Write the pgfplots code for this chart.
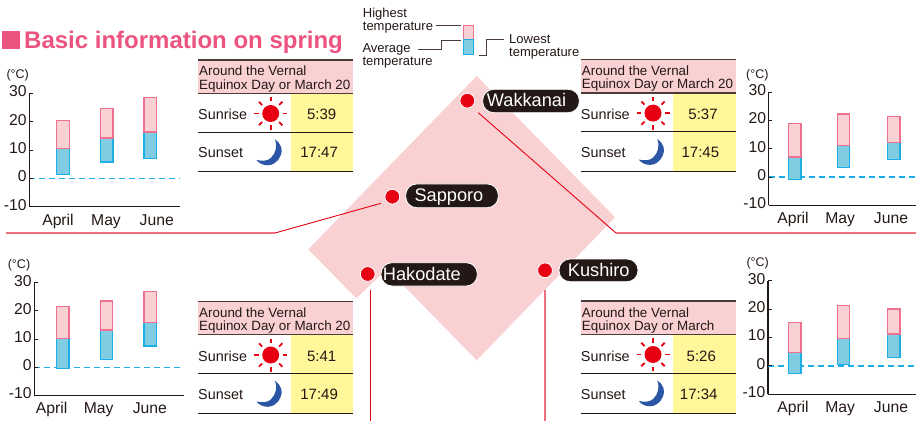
\documentclass[border=0pt]{standalone}
\usepackage{pgfplots}
\pgfplotsset{compat=1.18}
\usepackage{pgfplotstable}
\usepackage{fontspec}
\setmainfont{Liberation Sans}
\definecolor{ink}{HTML}{231815}
\definecolor{rulec}{HTML}{4A3B38}
\definecolor{pinkfill}{HTML}{F9D1D3}
\definecolor{pinkline}{HTML}{F0708F}
\definecolor{bluefill}{HTML}{7FCCE3}
\definecolor{blueline}{HTML}{1EAEE6}
\definecolor{titlec}{HTML}{EC5480}
\definecolor{yell}{HTML}{FFF799}
\definecolor{redc}{HTML}{E60012}
\definecolor{salmonc}{HTML}{F0707F}
\definecolor{moonc}{HTML}{2A56A5}

\pgfplotstableread{
x low avg high
0 1.3 10.6 20.5
1 5.8 14.2 24.7
2 6.9 16.4 28.6
}\tabSapporo
\pgfplotstableread{
x low avg high
0 -0.4 10.3 21.6
1 2.6 13.2 23.5
2 7.5 15.8 26.9
}\tabHakodate
\pgfplotstableread{
x low avg high
0 -0.9 7.1 18.9
1 3.4 11.2 22.2
2.035 6.2 12.1 21.4
}\tabWakkanai
\pgfplotstableread{
x low avg high
0 -2.6 4.8 15.2
1 0.6 9.6 21.2
2.035 2.9 11.2 20.0
}\tabKushiro

\newcommand{\chart}[8]{%
\begin{axis}[
  at={(#1pt,#2pt)}, anchor=south west, scale only axis,
  width=#3pt, height=#4pt,
  xmin=#5, xmax=#6, ymin=-10, ymax=30, enlargelimits=false,
  ybar stacked, stack negative=on previous, bar width=12.4pt,
  axis lines=left, axis line style={-, line width=1.1pt, color=ink},
  xtick={#7}, xticklabels={April,May,June},
  ytick={-10,0,10,20,30}, yticklabels={-10,0,10,20,30},
  extra y ticks={0}, extra y tick labels={},
  extra y tick style={grid=major, major grid style={dash pattern=on 6pt off 4pt, line width=1.2pt, color=blueline}},
  major x tick style={draw=none}, tick align=inside,
  major tick length=3.5pt, major tick style={line width=0.9pt, color=ink},
  tick label style={font=\fontsize{15.7pt}{16pt}\selectfont, text=ink, inner sep=0pt},
  xticklabel style={anchor=base, yshift=-18.3pt},
  yticklabel style={anchor=east, xshift=-2.5pt, yshift=2pt},
  clip=false,
]
\addplot[draw=none, fill=none] table[x=x, y=high] {#8};
\addplot[draw=pinkline, line width=1.3pt, fill=pinkfill] table[x=x, y expr=\thisrow{avg}-\thisrow{high}] {#8};
\addplot[draw=blueline, line width=1.3pt, fill=bluefill] table[x=x, y expr=\thisrow{low}-\thisrow{avg}] {#8};
\end{axis}}

\newcommand{\sun}[2]{%
  \begin{scope}[shift={(#1,#2)}]
  \fill[redc] (0,0) circle (8.5);
  \foreach \a in {0,45,...,315} \draw[redc, line width=1.8pt] (\a:12) -- (\a:16.5);
  \end{scope}}
\newcommand{\moon}[2]{%
  \begin{scope}[shift={(#1,#2)}]
  \fill[moonc] (0,0) .. controls (6,4) and (8.5,11) .. (5.5,16.5)
     .. controls (3,23) and (-3,26) .. (-7,26)
     .. controls (-12,26) and (-16,24) .. (-18.5,20.7)
     .. controls (-12,22) and (-7,21.5) .. (-4,18.5)
     .. controls (1,14) and (2.5,6) .. (0,0) -- cycle;
  \end{scope}}
% x0 x1 xyellow ytop secondline sunrise sunset cx1 cx2
\newcommand{\infotab}[9]{%
  \fill[pinkfill] (#1,#4) rectangle (#2,#4+33.3);
  \fill[yell] (#3,#4+33.3) rectangle (#2,#4+112);
  \draw[rulec, line width=1.1pt] (#1,#4) -- (#2,#4);
  \draw[rulec, line width=1.3pt] (#1,#4+33.3) -- (#2,#4+33.3);
  \draw[ink, line width=1pt] (#1,#4+72.3) -- (#2,#4+72.3);
  \draw[ink, line width=1pt] (#1,#4+112) -- (#2,#4+112);
  \node[anchor=base west, inner sep=0pt, text=ink, font=\fontsize{13.4pt}{14pt}\selectfont] at (#1+1,#4+16) {Around the Vernal};
  \node[anchor=base west, inner sep=0pt, text=ink, font=\fontsize{13.4pt}{14pt}\selectfont] at (#1+1,#4+29.3) {#5};
  \node[anchor=base west, inner sep=0pt, text=ink, font=\fontsize{14.4pt}{15pt}\selectfont] at (#1,#4+60) {Sunrise};
  \node[anchor=base west, inner sep=0pt, text=ink, font=\fontsize{14.4pt}{15pt}\selectfont] at (#1,#4+98) {Sunset};
  \node[anchor=base, inner sep=0pt, text=ink, font=\fontsize{15pt}{15pt}\selectfont] at (#8,#4+60) {#6};
  \node[anchor=base, inner sep=0pt, text=ink, font=\fontsize{15pt}{15pt}\selectfont] at (#8-2.6,#4+98) {#7};
  \sun{#9}{#4+53.5}
  \moon{#9+4.3}{#4+79.3}
}
\newcommand{\pill}[6]{% x0 x1 y0 y1 textx name
  \draw[fill=ink, draw=white, line width=0.8pt, rounded corners=11pt] (#1,#3) rectangle (#2,#4);
  \node[anchor=base west, inner sep=0pt, text=white, font=\fontsize{18.2pt}{19pt}\selectfont] at (#5,#3+17.3) {#6};
}
\newcommand{\dotc}[2]{\draw[fill=redc, draw=white, line width=0.8pt] (#1,#2) circle (7.4);}

\begin{document}
\begin{tikzpicture}[x=1pt,y=1pt]
\path[use as bounding box] (0,0) rectangle (916,421);
\begin{scope}[shift={(0,421)},y=-1pt,x=1pt]
  % diamond with notch
  \fill[pinkfill] (476.7,76) -- (615,217.3) -- (476.7,360.3) -- (405,287) -- (384,272) -- (356.3,298.3) -- (308.3,249.3) -- cycle;
  % leader lines
  \draw[redc, line width=0.9pt] (478.3,112.7) -- (616,233);
  \draw[salmonc, line width=1.4pt] (616,233) -- (916,233);
  \draw[redc, line width=0.9pt] (381,203.3) -- (275,233);
  \draw[salmonc, line width=1.4pt] (275,233) -- (6,233);
  \draw[redc, line width=0.9pt] (370.2,290) -- (370.2,421);
  \draw[salmonc, line width=1.4pt] (545,290) -- (545,421);
  % title
  \fill[titlec] (2,31.5) rectangle (20,49);
  \node[anchor=base west, inner sep=0pt, text=titlec, font=\bfseries\fontsize{24pt}{24pt}\selectfont] at (24,48.5) {Basic information on spring};
  % legend
  \fill[pinkfill] (463.3,25.7) rectangle (473.3,40);
  \fill[bluefill] (463.3,40) rectangle (473.3,54.3);
  \draw[pinkline, line width=1pt] (463.3,40) -- (463.3,25.7) -- (473.3,25.7) -- (473.3,40);
  \draw[blueline, line width=1pt] (463.3,40) rectangle (473.3,54.3);
  \draw[rulec, line width=0.8pt] (436,25.7) -- (460.7,25.7);
  \draw[rulec, line width=0.8pt] (418,49.3) -- (441.7,49.3) -- (441.7,40) -- (460.7,40);
  \draw[rulec, line width=0.8pt] (478.7,55) -- (486,55) -- (486,39) -- (504.3,39);
  \begin{scope}[every node/.style={anchor=base west, inner sep=0pt, text=ink, font=\fontsize{13pt}{14pt}\selectfont}]
  \node at (362.7,18) {Highest};
  \node at (362.7,31) {temperature};
  \node at (362.3,53) {Average};
  \node at (362.3,66) {temperature};
  \node at (509,43.5) {Lowest};
  \node at (509,57) {temperature};
  \end{scope}
  % tables
  \infotab{198}{353.3}{291}{60}{Equinox Day or March 20}{5:39}{17:47}{321.7}{270.7}
  \infotab{580.7}{735.7}{673}{59.6}{Equinox Day or March 20}{5:37}{17:45}{703}{653}
  \infotab{198}{353.3}{291}{301.5}{Equinox Day or March 20}{5:41}{17:49}{321.7}{270.7}
  \infotab{580.7}{735.7}{673}{301}{Equinox Day or March}{5:26}{17:34}{701.3}{653}
  % units
  \begin{scope}[every node/.style={inner sep=0pt, text=ink, font=\fontsize{12.5pt}{13pt}\selectfont}]
  \node at (17.7,75.7) {(°C)};
  \node at (19,265) {(°C)};
  \node at (757.3,75) {(°C)};
  \node at (757.7,263.5) {(°C)};
  \end{scope}
  % city labels
  \pill{482.7}{579.3}{89.3}{112.7}{486.7}{Wakkanai}
  \pill{405.7}{498.3}{184}{207.7}{414.3}{Sapporo}
  \pill{381}{477.3}{262.7}{286}{382.7}{Hakodate}
  \pill{559}{638}{259}{281.7}{567.7}{Kushiro}
  \dotc{467.3}{100.7}
  \dotc{392.3}{196.7}
  \dotc{367.7}{274}
  \dotc{545}{270.3}
\end{scope}
\chart{29.3}{214.3}{150.7}{113.4}{-0.772}{2.68}{-0.115,0.985,2.147}{\tabSapporo}
\chart{34.3}{25.8}{150}{112.4}{-0.657}{2.785}{-0.259,0.82,1.993}{\tabHakodate}
\chart{768.7}{215.6}{147.3}{113.4}{-0.5375}{2.49}{-0.038,0.93,1.976}{\tabWakkanai}
\chart{768}{26.7}{148}{113.6}{-0.552}{2.49}{-0.038,0.93,1.976}{\tabKushiro}
\end{tikzpicture}
\end{document}
